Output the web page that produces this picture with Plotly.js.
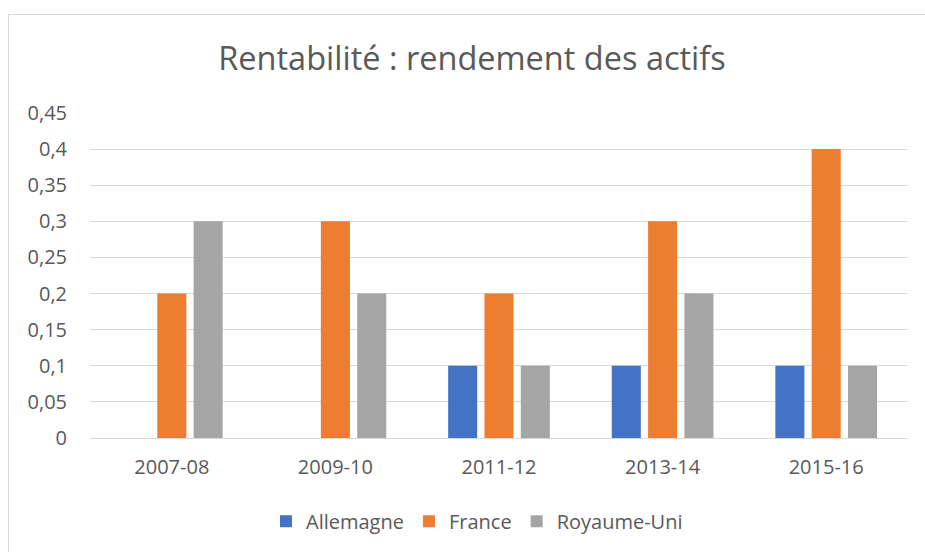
<!DOCTYPE html>
<html>
<head>
<meta charset="utf-8">
<script src="https://cdn.plot.ly/plotly-3.0.1.min.js"></script>
<style>
html,body{margin:0;padding:0;background:#fff;overflow:hidden;}
#wrap{position:relative;width:925px;height:552px;overflow:hidden;}
#frame{position:absolute;left:8px;top:14px;width:1200px;height:800px;border:1px solid #D9D9D9;box-sizing:border-box;}
#chart{position:absolute;left:0;top:0;width:925px;height:552px;}
</style>
</head>
<body>
<div id="wrap">
<div id="frame"></div>
<div id="chart"></div>
</div>
<script>
const categories = ["2007-08", "2009-10", "2011-12", "2013-14", "2015-16"];
const allemagne = [0, 0, 0.1, 0.1, 0.1];
const france = [0.2, 0.3, 0.2, 0.3, 0.4];
const royaumeUni = [0.3, 0.2, 0.1, 0.2, 0.1];
const yTicks = [0, 0.05, 0.1, 0.15, 0.2, 0.25, 0.3, 0.35, 0.4, 0.45];
const yTickLabels = ["0", "0,05", "0,1", "0,15", "0,2", "0,25", "0,3", "0,35", "0,4", "0,45"];

const FONT = "Open Sans, Noto Sans, sans-serif";
const TXT = "#595959";

const traces = [
  {type: "bar", name: "Allemagne", x: categories, y: allemagne, marker: {color: "#4472C4"}},
  {type: "bar", name: "France", x: categories, y: france, marker: {color: "#ED7D31"}},
  {type: "bar", name: "Royaume-Uni", x: categories, y: royaumeUni, marker: {color: "#A5A5A5"}}
];

const layout = {
  width: 925, height: 552,
  margin: {l: 90, r: 17, t: 113, b: 114, pad: 0, autoexpand: false},
  paper_bgcolor: "rgba(0,0,0,0)", plot_bgcolor: "rgba(0,0,0,0)",
  font: {family: FONT, color: TXT, size: 20},
  title: {text: "Rentabilité : rendement des actifs", font: {family: FONT, size: 32.5, color: TXT},
          x: 472 / 925, xanchor: "center", y: 0.893, yanchor: "middle", xref: "container", yref: "container"},
  barmode: "group", bargap: 0.334, bargroupgap: 0.2,
  hovermode: false,
  xaxis: {type: "category", showgrid: false, zeroline: false, showline: false, ticks: "", tickangle: 0,
          tickfont: {family: FONT, size: 20, color: TXT}, ticklabelstandoff: 15, fixedrange: true, automargin: false},
  yaxis: {range: [0, 0.45], tickvals: yTicks, ticktext: yTickLabels, showgrid: true,
          gridcolor: "#D9D9D9", gridwidth: 1, zeroline: true, zerolinecolor: "#D9D9D9", zerolinewidth: 1,
          showline: false, ticks: "", tickfont: {family: FONT, size: 20, color: TXT},
          ticklabelstandoff: 22, fixedrange: true, automargin: false},
  legend: {orientation: "h", xref: "paper", x: (477 - 90) / 818, xanchor: "center", y: -0.2565, yanchor: "middle",
           font: {family: FONT, size: 20, color: TXT}, traceorder: "normal", bgcolor: "rgba(0,0,0,0)"}
};

Plotly.newPlot("chart", traces, layout, {displayModeBar: false, staticPlot: true});
</script>
</body>
</html>
